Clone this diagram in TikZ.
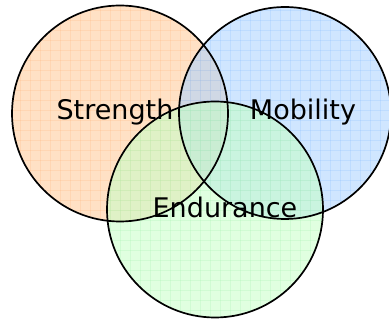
\documentclass[tikz,border=0pt]{standalone}
\usepackage{fontspec}
\setmainfont{DejaVu Sans}
\definecolor{cOrange}{HTML}{FFC896}
\definecolor{cBlue}{HTML}{AAD2FF}
\definecolor{cGreen}{HTML}{C6FFC6}
\definecolor{gOrange}{HTML}{FFB070}
\definecolor{gBlue}{HTML}{80B8FF}
\definecolor{gGreen}{HTML}{9CEFA8}
\tikzset{
  ring/.style={draw=black, line width=1.7pt},
  label/.style={font=\fontsize{27}{30}\selectfont, inner sep=0pt, text=black},
  gridline/.style={line width=0.6pt, opacity=0.22},
}
\newcommand{\mygrid}[1]{%
  \foreach \i in {0,10,...,390} {\draw[gridline,#1] (\i,0) -- (\i,320);}
  \foreach \j in {0,10,...,320} {\draw[gridline,#1] (0,\j) -- (389,\j);}
}
\begin{document}
\begin{tikzpicture}[x=1pt,y=-1pt]
\useasboundingbox (0,0) rectangle (389,320);
\coordinate (cs) at (120,113.5);
\coordinate (cm) at (285,113);
\coordinate (ce) at (215,209.5);
\fill[cOrange, fill opacity=0.55] (cs) circle[radius=108];
\begin{scope}
  \clip (cs) circle[radius=108];
  \mygrid{gOrange}
\end{scope}
\fill[cBlue, fill opacity=0.55] (cm) circle[radius=106];
\begin{scope}
  \clip (cm) circle[radius=106];
  \mygrid{gBlue}
\end{scope}
\fill[cGreen, fill opacity=0.55] (ce) circle[radius=108];
\begin{scope}
  \clip (ce) circle[radius=108];
  \mygrid{gGreen}
\end{scope}
\draw[ring] (cs) circle[radius=108];
\draw[ring] (cm) circle[radius=106];
\draw[ring] (ce) circle[radius=108];
\node[label] (s) at (115,112) {Strength};
\node[label] (m) at (303,112) {Mobility};
\node[label] (e) at (225,207) {Endurance};
\end{tikzpicture}
\end{document}
